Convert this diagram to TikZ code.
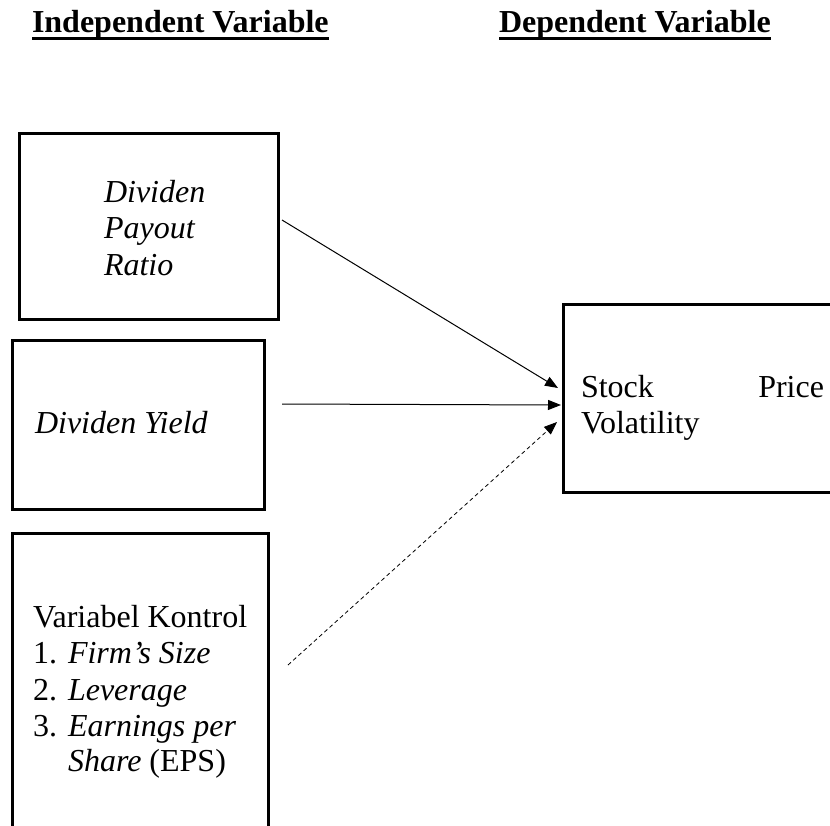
\documentclass[tikz,border=0pt]{standalone}
\usepackage{fontspec}
\setmainfont{Liberation Serif}
\usetikzlibrary{arrows.meta}
\begin{document}
\begin{tikzpicture}[x=1pt,y=1pt,
  box/.style={draw,line width=3pt,inner sep=0pt,outer sep=0pt,rectangle},
  txt/.style={inner sep=0pt,outer sep=0pt,anchor=base west,font=\fontsize{32}{36.5}\selectfont},
  itxt/.style={txt,font=\fontsize{32}{36.5}\selectfont\itshape},
  hdr/.style={txt,font=\fontsize{32}{36.5}\selectfont\bfseries},
  uline/.style={line width=3pt},
  conn/.style={line width=1pt,-{Triangle[length=13pt,width=10pt]}},
  dconn/.style={line width=0.8pt,dash pattern=on 4pt off 3pt,-{Triangle[length=13pt,width=10pt]}}]
\useasboundingbox (0,0) rectangle (830,-825);
\clip (0,0) rectangle (830,-825);
% headers
\node[hdr] (h1) at (32,-32) {Independent Variable};
\node[hdr] (h2) at (499,-32) {Dependent Variable};
\draw[uline] ([yshift=-6pt]h1.base west) -- ([yshift=-6pt]h1.base east);
\draw[uline] ([yshift=-6pt]h2.base west) -- ([yshift=-6pt]h2.base east);
% boxes
\node[box,minimum width=259pt,minimum height=186pt] (b1) at (148.5,-226) {};
\node[box,minimum width=252pt,minimum height=169pt] (b2) at (138,-424.5) {};
\node[box,minimum width=256pt,minimum height=327pt] (b3) at (140,-696.5) {};
\node[box,minimum width=297pt,minimum height=188pt] (b4) at (711.5,-398) {};
% texts
\node[itxt] (t1a) at (104,-202) {Dividen};
\node[itxt] (t1b) at (104,-238) {Payout};
\node[itxt] (t1c) at (104,-275) {Ratio};
\node[itxt] (t2) at (35,-433) {Dividen Yield};
\node[txt] (t3) at (33,-627) {Variabel Kontrol};
\node[txt] (n1) at (33,-663) {1.};
\node[itxt] (i1) at (68,-663) {Firm's Size};
\node[txt] (n2) at (33,-700) {2.};
\node[itxt] (i2) at (68,-700) {Leverage};
\node[txt] (n3) at (33,-736) {3.};
\node[itxt] (i3) at (68,-736) {Earnings per};
\node[txt] (i4) at (68,-771) {\textit{Share} (EPS)};
\node[txt] (s1) at (581,-397) {Stock};
\node[txt,anchor=base east] (s2) at (824,-397) {Price};
\node[txt] (s3) at (581,-433) {Volatility};
% connectors
\draw[conn] ([shift={(4,6)}]b1.east) -- ([shift={(-5,10)}]b4.west);
\draw[conn] ([shift={(18,20.5)}]b2.east) -- ([shift={(-2,-7)}]b4.west);
\draw[dconn] ([shift={(20,31.5)}]b3.east) -- ([shift={(-6,-24)}]b4.west);
\end{tikzpicture}
\end{document}
